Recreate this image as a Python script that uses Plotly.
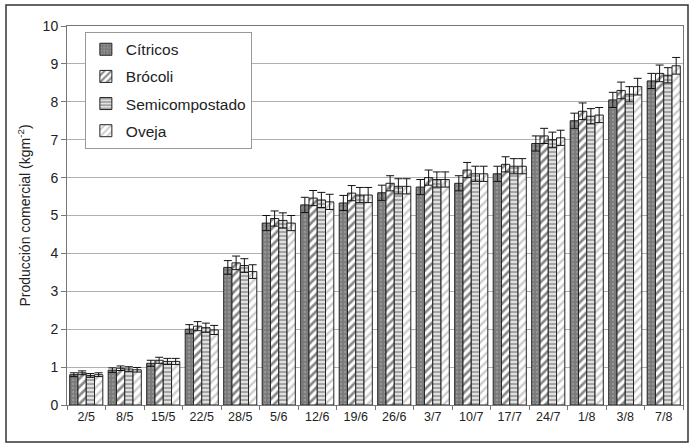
import plotly.graph_objects as go

fechas = ["2/5", "8/5", "15/5", "22/5", "28/5", "5/6", "12/6", "19/6", "26/6", "3/7",
          "10/7", "17/7", "24/7", "1/8", "3/8", "7/8"]

citricos = [0.80, 0.92, 1.10, 2.00, 3.63, 4.80, 5.28, 5.33, 5.60, 5.75, 5.85, 6.10, 6.90, 7.50, 8.05, 8.55]
brocoli = [0.85, 0.97, 1.18, 2.08, 3.75, 4.92, 5.46, 5.59, 5.85, 6.00, 6.20, 6.35, 7.10, 7.75, 8.30, 8.75]
semicompostado = [0.78, 0.95, 1.15, 2.04, 3.68, 4.87, 5.41, 5.54, 5.77, 5.95, 6.10, 6.30, 7.00, 7.62, 8.20, 8.70]
oveja = [0.80, 0.93, 1.15, 1.98, 3.52, 4.80, 5.36, 5.54, 5.77, 5.95, 6.10, 6.30, 7.05, 7.65, 8.40, 8.95]

err_citricos = [0.05, 0.06, 0.08, 0.12, 0.18, 0.20, 0.20, 0.20, 0.20, 0.20, 0.20, 0.20, 0.20, 0.20, 0.20, 0.20]
err_brocoli = [0.05, 0.06, 0.08, 0.12, 0.18, 0.20, 0.20, 0.20, 0.20, 0.20, 0.20, 0.20, 0.20, 0.22, 0.22, 0.22]
err_semicompostado = [0.05, 0.06, 0.08, 0.12, 0.18, 0.20, 0.20, 0.20, 0.20, 0.20, 0.20, 0.20, 0.20, 0.20, 0.20, 0.20]
err_oveja = [0.05, 0.06, 0.08, 0.12, 0.18, 0.20, 0.20, 0.20, 0.20, 0.20, 0.20, 0.20, 0.20, 0.20, 0.22, 0.22]

series = [
    ("Cítricos", citricos, err_citricos, dict(bgcolor="#7a7a7a", fgcolor="#b0b0b0", shape=".", size=4, solidity=0.3)),
    ("Brócoli", brocoli, err_brocoli, dict(bgcolor="#ffffff", fgcolor="#111111", shape="/", size=6, solidity=0.45)),
    ("Semicompostado", semicompostado, err_semicompostado, dict(bgcolor="#e0e0e0", fgcolor="#333333", shape="-", size=4, solidity=0.35)),
    ("Oveja", oveja, err_oveja, dict(bgcolor="#ffffff", fgcolor="#9a9a9a", shape="/", size=6, solidity=0.4)),
]

fig = go.Figure()
for i, (name, vals, errs, pat) in enumerate(series):
    fig.add_trace(go.Bar(
        x=fechas, y=vals, name=name, legendgroup=f"g{i}",
        marker=dict(color=pat["bgcolor"], line=dict(color="#222222", width=1), pattern=pat),
        error_y=dict(type="data", array=errs, visible=True, color="#111111", thickness=1, width=4),
    ))

fig.update_layout(
    width=691, height=445,
    margin=dict(l=67, r=8, t=26, b=40),
    paper_bgcolor="white", plot_bgcolor="white",
    barmode="group", bargap=0.14, bargroupgap=0.0,
    font=dict(family="Liberation Sans, Arial, sans-serif", size=13, color="#222222"),
    showlegend=True,
    legend=dict(x=0.029, y=0.985, xanchor="left", yanchor="top",
                bordercolor="#999999", borderwidth=1, bgcolor="white",
                font=dict(size=15.5, color="#222222"),
                traceorder="grouped", tracegroupgap=4, itemwidth=30),
    xaxis=dict(showline=True, linecolor="#777777", linewidth=1, ticks="outside",
               tickson="boundaries", ticklen=4, tickcolor="#777777",
               mirror=True, tickfont=dict(size=12.5)),
    yaxis=dict(range=[0, 10], dtick=1, showgrid=True, gridcolor="#b0b0b0", gridwidth=1,
               showline=True, linecolor="#777777", linewidth=1, ticks="outside",
               ticklen=5, tickcolor="#777777", mirror=True, zeroline=False,
               tickfont=dict(size=14),
               title=dict(text="Producción comercial (kgm<sup>-2</sup>)", font=dict(size=14), standoff=8)),
    shapes=[dict(type="rect", xref="paper", yref="paper",
                 x0=(6 - 67) / 616, x1=(688 - 67) / 616,
                 y0=(405 - 442) / 379, y1=(405 - 5) / 379,
                 line=dict(color="#333333", width=1.5), fillcolor="rgba(0,0,0,0)", layer="below")],
)

fig.write_html("out.html")
